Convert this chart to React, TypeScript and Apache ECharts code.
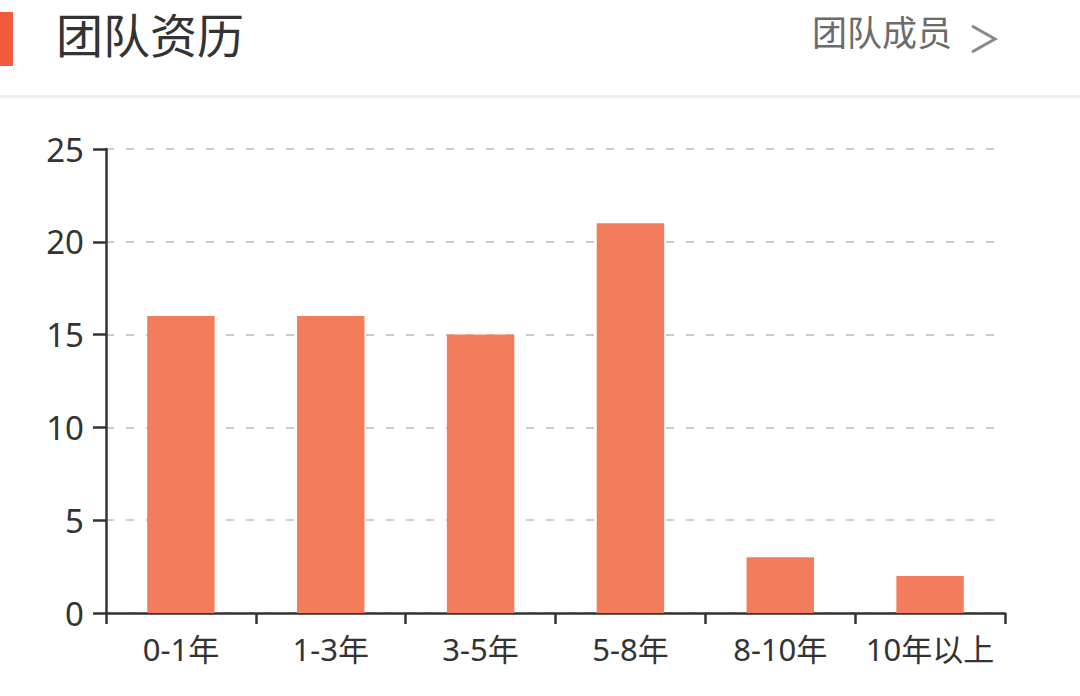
import React, { useEffect, useRef } from 'react';
import * as echarts from 'echarts';

// 分类与数值
const categories = ['0-1年', '1-3年', '3-5年', '5-8年', '8-10年', '10年以上'];
const counts = [16, 16, 15, 21, 3, 2];
const yTicks = { min: 0, max: 25, interval: 5 };

const FONT = '"Noto Sans", "Noto Sans CJK SC", sans-serif';

const App: React.FC = () => {
  const chartRef = useRef<HTMLDivElement>(null);

  useEffect(() => {
    if (!chartRef.current) return;
    const chart = echarts.init(chartRef.current, undefined, { renderer: 'svg' });

    const option = {
      animation: false,
      backgroundColor: '#ffffff',
      textStyle: { fontFamily: FONT },
      graphic: [
        // 左侧标记条
        { type: 'rect', left: 0, top: 12, shape: { width: 13, height: 54 }, style: { fill: '#F25A3C' } },
        {
          type: 'text', left: 56, top: 11,
          style: { text: '团队资历', fontSize: 47, fill: '#333333', fontFamily: FONT }
        },
        {
          type: 'text', left: 812, top: 15,
          style: { text: '团队成员', fontSize: 35, fill: '#6b6b6b', fontFamily: FONT }
        },
        {
          type: 'polyline',
          shape: { points: [[972, 26], [995, 39], [972, 52]] },
          style: { stroke: '#888888', lineWidth: 3, fill: 'none' }
        },
        // 分隔线
        { type: 'rect', left: 0, top: 95, shape: { width: 1080, height: 3 }, style: { fill: '#efefef' } }
      ],
      grid: { left: 106, right: 75, top: 149, bottom: 83 },
      xAxis: {
        type: 'category',
        data: categories,
        axisLine: { lineStyle: { color: '#333333', width: 2.5 } },
        axisTick: { show: true, alignWithLabel: false, interval: 0, length: 11, lineStyle: { color: '#333333', width: 2.5 } },
        axisLabel: { color: '#333333', fontSize: 31, margin: 20, fontFamily: FONT, interval: 0 }
      },
      yAxis: {
        type: 'value',
        min: yTicks.min,
        max: yTicks.max,
        interval: yTicks.interval,
        axisLine: { show: true, lineStyle: { color: '#333333', width: 2.5 } },
        axisTick: { show: true, length: 13, lineStyle: { color: '#333333', width: 2.5 } },
        axisLabel: { color: '#333333', fontSize: 33, margin: 22, fontFamily: FONT },
        splitLine: { lineStyle: { color: '#cccccc', width: 2, type: [8, 12] } }
      },
      series: [
        {
          type: 'bar',
          data: counts,
          barWidth: '45%',
          itemStyle: { color: '#F27C5C' }
        }
      ]
    };

    chart.setOption(option);
    return () => chart.dispose();
  }, []);

  return (
    <div style={{ position: 'fixed', left: 0, top: 0, width: 1080, height: 696, background: '#fff' }}>
      <div ref={chartRef} style={{ width: 1080, height: 696 }} />
    </div>
  );
};

export default App;
